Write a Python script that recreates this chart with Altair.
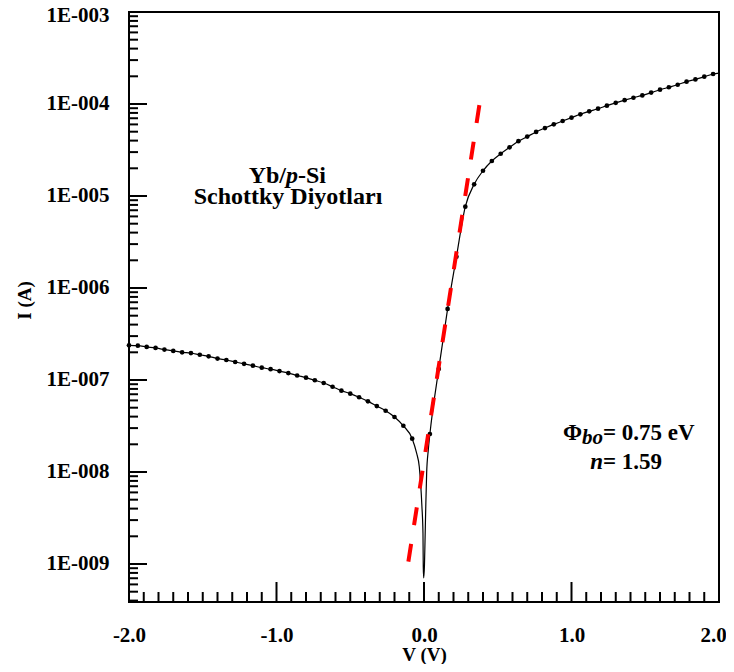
import altair as alt
import pandas as pd

FONT = "Liberation Serif"

# ---- measured I-V data (dots) ----
V_rev = [-2.00, -1.94, -1.88, -1.82, -1.76, -1.70, -1.64, -1.58, -1.52, -1.46,
         -1.40, -1.34, -1.28, -1.22, -1.16, -1.10, -1.04, -0.98, -0.92, -0.86,
         -0.80, -0.74, -0.68, -0.62, -0.56, -0.50, -0.44, -0.38, -0.32, -0.26,
         -0.20, -0.14, -0.08]
I_rev = [2.38e-7, 2.36e-7, 2.29e-7, 2.23e-7, 2.14e-7, 2.07e-7, 2.00e-7, 1.96e-7, 1.88e-7, 1.81e-7,
         1.71e-7, 1.65e-7, 1.57e-7, 1.50e-7, 1.43e-7, 1.36e-7, 1.31e-7, 1.25e-7, 1.19e-7, 1.12e-7,
         1.06e-7, 9.93e-8, 9.27e-8, 8.45e-8, 7.66e-8, 7.10e-8, 6.49e-8, 5.86e-8, 5.21e-8, 4.63e-8,
         3.96e-8, 3.18e-8, 2.30e-8]
V_fwd = [0.04, 0.10, 0.16, 0.22, 0.28, 0.34, 0.40, 0.46, 0.52, 0.58,
         0.64, 0.70, 0.76, 0.82, 0.88, 0.94, 1.00, 1.06, 1.12, 1.18,
         1.24, 1.30, 1.36, 1.42, 1.48, 1.54, 1.60, 1.66, 1.72, 1.78,
         1.84, 1.90, 1.96]
I_fwd = [2.59e-8, 1.32e-7, 5.92e-7, 2.19e-6, 7.66e-6, 1.34e-5, 1.88e-5, 2.40e-5, 2.88e-5, 3.38e-5,
         3.94e-5, 4.42e-5, 4.97e-5, 5.48e-5, 6.01e-5, 6.53e-5, 7.10e-5, 7.73e-5, 8.32e-5, 8.89e-5,
         9.59e-5, 1.03e-4, 1.10e-4, 1.17e-4, 1.24e-4, 1.33e-4, 1.43e-4, 1.52e-4, 1.62e-4, 1.75e-4,
         1.85e-4, 1.98e-4, 2.12e-4]

# ---- extra points of the smooth curve (no dot) read near the dip and at the right edge ----
V_curve = [-0.050, -0.032, -0.023, -0.014, -0.007, -0.005, -0.002, 0.003, 0.007, 0.012, 0.018, 0.029, 2.00]
I_curve = [1.60e-8, 1.14e-8, 7.53e-9, 4.20e-9, 2.17e-9, 9.35e-10, 7.05e-10, 9.55e-10, 1.82e-9, 4.20e-9,
           9.75e-9, 1.73e-8, 2.17e-4]

# ---- red dashed fit line ----
V_fit = [-0.106, 0.393]
I_fit = [1.06e-9, 1.48e-4]

# ---- axis ticks ----
x_labels = [-2.0, -1.0, 0.0, 1.0, 2.0]
x_major = [-1.0, 0.0, 1.0]
x_minor = [round(-2 + 0.1 * i, 1) for i in range(1, 40) if round(-2 + 0.1 * i, 1) not in (-1.0, 0.0, 1.0)]
y_labels = [1e-9, 1e-8, 1e-7, 1e-6, 1e-5, 1e-4, 1e-3]
y_major = [1e-9, 1e-8, 1e-7, 1e-6, 1e-5, 1e-4]
Y_MIN, Y_MAX = 3.863e-10, 1e-3
y_minor = [m * 10.0 ** e for e in range(-10, -3) for m in range(2, 10) if Y_MIN <= m * 10.0 ** e < Y_MAX]

W, H = 590, 590

dots = pd.DataFrame({"V": V_rev + V_fwd, "I": I_rev + I_fwd})
curve = pd.concat([dots, pd.DataFrame({"V": V_curve, "I": I_curve})]).sort_values("V")
fit = pd.DataFrame({"V": V_fit, "I": I_fit})

xscale = alt.Scale(domain=[-2, 2], nice=False, zero=False)
yscale = alt.Scale(type="log", domain=[Y_MIN, Y_MAX], nice=False)

xaxis = alt.Axis(
    values=x_labels,
    labelExpr="(datum.value < 0 ? '-' : '') + format(abs(datum.value), '.1f')",
    ticks=False, tickSize=0, domain=False, grid=False,
    labelFont=FONT, labelFontSize=21, labelFontWeight="bold", labelColor="black",
    labelPadding=22, labelFlush=False, labelOverlap=False, labelBound=False,
    labelOffset=alt.condition("datum.value >= 2", alt.value(-6), alt.value(0)),
    title="V (V)", titleFont=FONT, titleFontSize=19, titleFontWeight="bold", titleColor="black",
    titleY=58, titleBaseline="alphabetic",
)
yaxis = alt.Axis(
    values=y_labels,
    labelExpr="'1E-' + pad(toString(-round(log(datum.value) / LN10)), 3, '0', 'left')",
    ticks=False, tickSize=0, domain=False, grid=False,
    labelFont=FONT, labelFontSize=21, labelFontWeight="bold", labelColor="black",
    labelPadding=20, labelFlush=False, labelOverlap=False, labelBound=False,
    labelOffset=alt.condition("datum.value >= 0.0009", alt.value(3), alt.value(0)),
    title="I (A)", titleFont=FONT, titleFontSize=19, titleFontWeight="bold", titleColor="black",
    titleX=-105, titleY=288, titleAngle=270, titleAlign="center", titleBaseline="middle",
)

X = alt.X("V:Q", scale=xscale, axis=xaxis)
Y = alt.Y("I:Q", scale=yscale, axis=yaxis)

def xticks(vals, length):
    return alt.Chart(pd.DataFrame({"V": vals})).mark_rule(color="black", strokeWidth=2).encode(
        x=X, y=alt.value(H), y2=alt.value(H - length))

def yticks(vals, length):
    return alt.Chart(pd.DataFrame({"I": vals})).mark_rule(color="black", strokeWidth=2).encode(
        y=Y, x=alt.value(0), x2=alt.value(length))

line = alt.Chart(curve).mark_line(color="black", strokeWidth=1.2, interpolate="monotone").encode(x=X, y=Y)
points = alt.Chart(dots).mark_circle(color="black", size=22, opacity=1).encode(x=X, y=Y)
fitline = alt.Chart(fit).mark_line(color="#ff0000", strokeWidth=4, strokeDash=[18, 19]).encode(x=X, y=Y)

def label(text, x, y, size=23, style="normal", align="left"):
    return alt.Chart(pd.DataFrame({"t": [text]})).mark_text(
        font=FONT, fontSize=size, fontWeight="bold", fontStyle=style, align=align,
        baseline="alphabetic", color="black").encode(x=alt.value(x), y=alt.value(y), text="t:N")

texts = [
    label("Yb/", 157, 170.5, size=24, align="right"),
    label("p", 157, 170.5, size=24, style="italic"),
    label("-Si", 169, 170.5, size=24),
    label("Schottky Diyotları", 159, 192, size=24, align="center"),
    label("Φ", 453, 427.5, align="right"),
    label("bo", 474, 431.5, size=21, style="italic", align="right"),
    label("= 0.75 eV", 474, 427.5),
    label("n", 474, 456.5, style="italic", align="right"),
    label("= 1.59", 474, 456.5),
]

chart = alt.layer(
    line,
    xticks(x_minor, 10), xticks(x_major, 20),
    yticks(y_minor, 9), yticks(y_major, 18),
    points, fitline, *texts,
).properties(
    width=W, height=H, autosize="none",
    padding={"left": 121, "top": 4, "right": 7, "bottom": 62},
    background="white",
).configure_view(stroke="black", strokeWidth=2)

chart.save("out.html", embed_options={"renderer": "svg", "actions": False})
